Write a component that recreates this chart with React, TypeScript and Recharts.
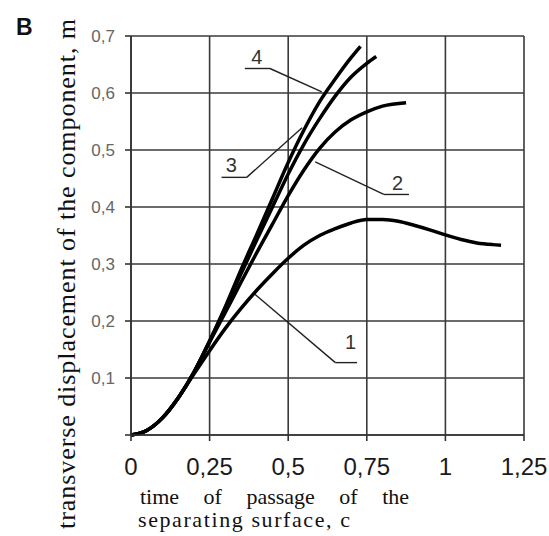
import React from 'react';
import { LineChart, Line, XAxis, YAxis, CartesianGrid, ReferenceLine, ReferenceDot } from 'recharts';

// time of passage, s
const t1 = [0, 0.05, 0.1, 0.15, 0.2, 0.25, 0.3, 0.35, 0.4, 0.45, 0.5, 0.55, 0.6, 0.65, 0.7, 0.75, 0.8, 0.85, 0.9, 0.95, 1.0, 1.05, 1.1, 1.15, 1.177];
const y1 = [0, 0.008, 0.03, 0.065, 0.107, 0.148, 0.187, 0.222, 0.254, 0.283, 0.31, 0.333, 0.35, 0.362, 0.372, 0.378, 0.378, 0.375, 0.368, 0.36, 0.351, 0.343, 0.337, 0.334, 0.333];

const t2 = [0, 0.05, 0.1, 0.15, 0.2, 0.25, 0.3, 0.35, 0.4, 0.45, 0.5, 0.55, 0.6, 0.65, 0.7, 0.75, 0.8, 0.875];
const y2 = [0, 0.008, 0.03, 0.065, 0.11, 0.163, 0.215, 0.268, 0.32, 0.37, 0.42, 0.465, 0.503, 0.532, 0.553, 0.567, 0.577, 0.583];

const t3 = [0, 0.05, 0.1, 0.15, 0.2, 0.25, 0.3, 0.35, 0.4, 0.45, 0.5, 0.55, 0.6, 0.65, 0.7, 0.75, 0.78];
const y3 = [0, 0.008, 0.03, 0.065, 0.11, 0.165, 0.222, 0.283, 0.342, 0.4, 0.458, 0.51, 0.555, 0.595, 0.628, 0.652, 0.664];

const t4 = [0, 0.05, 0.1, 0.15, 0.2, 0.25, 0.3, 0.35, 0.4, 0.45, 0.5, 0.55, 0.6, 0.65, 0.7, 0.73];
const y4 = [0, 0.008, 0.03, 0.065, 0.11, 0.165, 0.225, 0.29, 0.352, 0.415, 0.478, 0.535, 0.585, 0.625, 0.662, 0.682];

const xTicks = [0, 0.25, 0.5, 0.75, 1, 1.25];
const yTicks = [0, 0.1, 0.2, 0.3, 0.4, 0.5, 0.6, 0.7];

// curve labels with leader lines (data coords)
const leaders = [
  { name: '4', at: [0.4, 0.663], path: [[0.362, 0.643], [0.442, 0.643], [0.607, 0.602]] },
  { name: '3', at: [0.319, 0.474], path: [[0.288, 0.452], [0.368, 0.452], [0.544, 0.539]] },
  { name: '2', at: [0.848, 0.442], path: [[0.586, 0.479], [0.804, 0.422], [0.884, 0.422]] },
  { name: '1', at: [0.698, 0.163], path: [[0.394, 0.247], [0.65, 0.127], [0.719, 0.127]] },
];

const toPts = (t: number[], y: number[]) => t.map((x, i) => ({ x, y: y[i] }));
const curves = [toPts(t1, y1), toPts(t2, y2), toPts(t3, y3), toPts(t4, y4)];

const comma = (v: number) => String(v).replace('.', ',');

export default function App() {
  return (
    <div style={{ position: 'absolute', left: 0, top: 0, width: 549, height: 536, background: '#fff' }}>
      <LineChart width={549} height={536} margin={{ top: 36, right: 25, bottom: 61, left: 71 }}>
        <CartesianGrid stroke="#3a3a3a" strokeWidth={1.6} />
        <XAxis
          type="number"
          dataKey="x"
          domain={[0, 1.25]}
          ticks={xTicks}
          tickFormatter={comma}
          height={40}
          tickSize={6}
          tickMargin={17}
          stroke="#333"
          strokeWidth={1.6}
          tick={{ fill: '#1a1a1a', fontSize: 24, fontFamily: 'Liberation Sans, Arial' }}
        />
        <YAxis
          type="number"
          domain={[0, 0.7]}
          ticks={yTicks}
          tickFormatter={(v: number) => (v === 0 ? '' : comma(v))}
          width={60}
          tickSize={6}
          tickMargin={10}
          stroke="#333"
          strokeWidth={1.6}
          tick={{ fill: '#666', fontSize: 17, fontFamily: 'Liberation Sans, Arial' }}
        />
        {leaders.map((l) =>
          l.path.slice(1).map((p, i) => (
            <ReferenceLine
              key={l.name + i}
              segment={[
                { x: l.path[i][0], y: l.path[i][1] },
                { x: p[0], y: p[1] },
              ]}
              stroke="#222"
              strokeWidth={1.4}
            />
          ))
        )}
        {leaders.map((l) => (
          <ReferenceDot
            key={'d' + l.name}
            x={l.at[0]}
            y={l.at[1]}
            r={0}
            shape={(p: any) => (
              <text x={p.cx} y={p.cy} dy="0.36em" textAnchor="middle" fontSize={20}
                fontFamily="Liberation Sans, Arial" fill="#333">{l.name}</text>
            )}
          />
        ))}
        {curves.map((d, i) => (
          <Line
            key={i}
            data={d}
            dataKey="y"
            type="monotone"
            stroke="#000"
            strokeWidth={3.5}
            dot={false}
            isAnimationActive={false}
          />
        ))}
      </LineChart>
      <svg width={549} height={536} style={{ position: 'absolute', left: 0, top: 0, pointerEvents: 'none' }}>
        <text x={16} y={35} fontSize={23} fontWeight="bold" fontFamily="Liberation Sans, Arial" fill="#111">B</text>
        <text transform="translate(75,274) rotate(-90)" textAnchor="middle" fontSize={26}
          fontFamily="Liberation Serif, Times New Roman, serif" fill="#111" textLength={510} lengthAdjust="spacing">
          transverse displacement of the component, m
        </text>
        <text x={140} y={504} fontSize={22} fontFamily="Liberation Serif, Times New Roman, serif" fill="#111"
          style={{ wordSpacing: 19 }}>time of passage of the</text>
        <text x={138} y={527} fontSize={22} fontFamily="Liberation Serif, Times New Roman, serif" fill="#111"
          textLength={212} lengthAdjust="spacing">separating surface, c</text>
      </svg>
    </div>
  );
}
